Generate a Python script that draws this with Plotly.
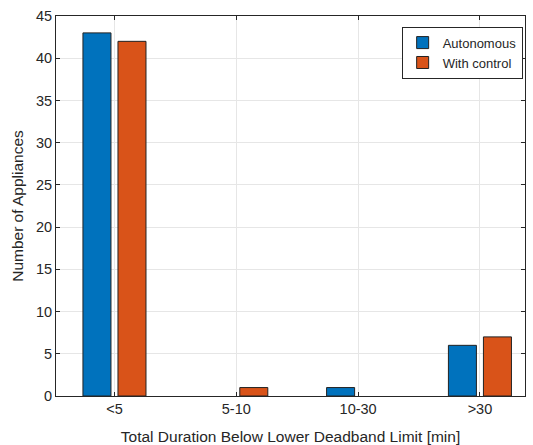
import plotly.graph_objects as go

categories = ["<5", "5-10", "10-30", ">30"]
autonomous = [43, 0, 1, 6]
with_control = [42, 1, 0, 7]
y_ticks = [0, 5, 10, 15, 20, 25, 30, 35, 40, 45]

font = "Liberation Sans, Arial, Helvetica, sans-serif"

def hide_zero(vals):
    return [v if v != 0 else None for v in vals]

fig = go.Figure()
fig.add_trace(go.Bar(x=categories, y=hide_zero(autonomous), name="Autonomous",
                     marker=dict(color="#0072BD", line=dict(color="#222222", width=1))))
fig.add_trace(go.Bar(x=categories, y=hide_zero(with_control), name="With control",
                     marker=dict(color="#D95319", line=dict(color="#222222", width=1))))

fig.update_layout(
    width=533, height=445,
    margin=dict(l=56, r=8, t=16, b=49),
    paper_bgcolor="white", plot_bgcolor="white",
    barmode="group", bargap=0.425, bargroupgap=0.2,
    font=dict(family=font, size=14, color="#262626"),
    legend=dict(x=0.995, y=0.972, xanchor="right", yanchor="top",
                bordercolor="#262626", borderwidth=1, bgcolor="white",
                font=dict(size=13), tracegroupgap=0),
    showlegend=True,
)
fig.update_xaxes(
    type="category", range=[-0.48, 3.37], automargin=False,
    showgrid=True, gridcolor="#e6e6e6",
    showline=True, linecolor="#262626", linewidth=1, mirror="ticks",
    ticks="inside", ticklen=4, tickcolor="#262626",
    title=dict(text="Total Duration Below Lower Deadband Limit [min]", font=dict(size=15.5), standoff=14),
    tickfont=dict(size=14.5),
)
fig.update_yaxes(
    range=[0, 45], tickvals=y_ticks, automargin=False,
    showgrid=True, gridcolor="#e6e6e6",
    showline=True, linecolor="#262626", linewidth=1, mirror="ticks",
    ticks="inside", ticklen=4, tickcolor="#262626",
    title=dict(text="Number of Appliances", font=dict(size=15.5), standoff=8),
    tickfont=dict(size=14.5), zeroline=False,
)

fig.write_html("out.html")
